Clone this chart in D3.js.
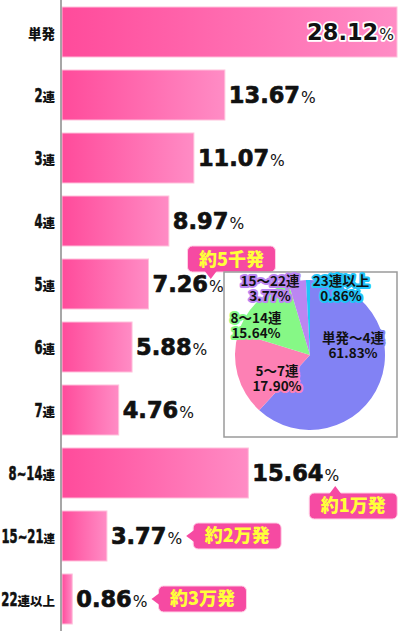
<!DOCTYPE html>
<html>
<head>
<meta charset="utf-8">
<script src="https://cdn.jsdelivr.net/npm/d3@7"></script>
<style>
  html, body { margin: 0; padding: 0; background: #fff; }
  svg { display: block; }
</style>
</head>
<body>
<svg id="chart"></svg>
<script>
// bar data
const categories = ['単発', '2連', '3連', '4連', '5連', '6連', '7連', '8~14連', '15~21連', '22連以上'];
const values = [28.12, 13.67, 11.07, 8.97, 7.26, 5.88, 4.76, 15.64, 3.77, 0.86];

// callouts
const calloutCats = ['5連', '8~14連', '15~21連', '22連以上'];
const calloutTexts = ['約5千発', '約1万発', '約2万発', '約3万発'];
const calloutSides = ['top', 'bottom', 'right', 'right'];

// pie data
const pieLabels = ['単発〜4連', '5〜7連', '8〜14連', '15〜22連', '23連以上'];
const pieValues = [61.83, 17.90, 15.64, 3.77, 0.86];
const pieColors = ['#8282f4', '#fd80b4', '#86f886', '#bb86f2', '#22c4f8'];

const width = 400, height = 631;
const svg = d3.select('#chart').attr('width', width).attr('height', height);

const defs = svg.append('defs');
const grad = defs.append('linearGradient').attr('id', 'barGrad')
  .attr('x1', '0%').attr('x2', '100%').attr('y1', '0%').attr('y2', '0%');
grad.append('stop').attr('offset', '0%').attr('stop-color', '#ff4b9b');
grad.append('stop').attr('offset', '100%').attr('stop-color', '#ff8cc5');

const x = d3.scaleLinear().domain([0, 28.12]).range([62, 397]);
const y = d3.scaleBand().domain(categories).range([0, height])
  .paddingInner(0.206).paddingOuter(0.111);

// bars
const bars = svg.append('g').attr('class', 'bars');
bars.selectAll('rect')
  .data(categories)
  .enter().append('rect')
  .attr('x', x(0))
  .attr('y', d => y(d))
  .attr('width', (d, i) => x(values[i]) - x(0))
  .attr('height', y.bandwidth())
  .attr('fill', 'url(#barGrad)')
  .attr('stroke', '#ffc2dc')
  .attr('stroke-width', 1);

// axis line
svg.append('line')
  .attr('x1', 61).attr('x2', 61).attr('y1', 0).attr('y2', height)
  .attr('stroke', '#8a8a8a').attr('stroke-width', 1.5);

// category labels: condensed digits + small kanji, right aligned
const catLabels = svg.append('g').attr('class', 'cat-labels');
categories.forEach(cat => {
  const base = y(cat) + y.bandwidth() / 2 + 7;
  let right = 55;
  const parts = cat.split(/([0-9~]+)/).filter(s => s.length).reverse();
  parts.forEach(part => {
    const isNum = /^[0-9~]+$/.test(part);
    const g = catLabels.append('g');
    const t = g.append('text')
      .attr('text-anchor', 'end')
      .attr('fill', '#111')
      .text(part);
    if (isNum) {
      t.attr('font-family', '"DejaVu Sans", sans-serif')
        .attr('font-weight', 700).attr('font-size', 20)
        .attr('stroke', '#111').attr('stroke-width', 0.6);
      const sx = 0.58;
      g.attr('transform', `translate(${right},${base}) scale(${sx},1)`);
      right -= t.node().getComputedTextLength() * sx;
    } else {
      const fs = cat === '単発' ? 13.5 : (cat.length > 5 ? 11.5 : 12.5);
      t.attr('font-family', '"Noto Sans CJK JP", sans-serif')
        .attr('font-weight', 900).attr('font-size', fs);
      g.attr('transform', `translate(${right},${base})`);
      right -= t.node().getComputedTextLength();
    }
  });
});

// value labels
const valueEnds = {};
const valLabels = svg.append('g').attr('class', 'value-labels');
valLabels.selectAll('text')
  .data(categories)
  .enter().append('text')
  .attr('x', (d, i) => i === 0 ? x(values[i]) - 3 : x(values[i]) + 4)
  .attr('y', d => y(d) + y.bandwidth() / 2 + 8)
  .attr('text-anchor', (d, i) => i === 0 ? 'end' : 'start')
  .attr('font-family', '"DejaVu Sans", sans-serif')
  .attr('fill', '#111')
  .attr('stroke', (d, i) => i === 0 ? '#fff' : '#111')
  .attr('stroke-width', (d, i) => i === 0 ? 3.5 : 0.7)
  .attr('stroke-linejoin', 'round')
  .attr('paint-order', 'stroke')
  .each(function(d, i) {
    const t = d3.select(this);
    t.append('tspan').text(values[i].toFixed(2))
      .attr('font-weight', 700).attr('font-size', 22.5);
    t.append('tspan').text('%')
      .attr('font-weight', 400).attr('font-size', 15.5).attr('dx', 1)
      .attr('stroke', i === 0 ? '#fff' : 'none');
    const bb = this.getBBox();
    valueEnds[d] = { x0: bb.x, x1: bb.x + bb.width };
  });

// callouts
const callouts = svg.append('g').attr('class', 'callouts');
const boxW = 88, boxH = 26;
calloutCats.forEach((cat, i) => {
  const cy = y(cat) + y.bandwidth() / 2;
  const ve = valueEnds[cat];
  const side = calloutSides[i];
  let bx, by, tri;
  if (side === 'top') {
    bx = ve.x0 + 35; by = cy - 38;
    const px = ve.x1 - 13;
    tri = [[px - 6, by + boxH - 1], [px + 6, by + boxH - 1], [px, by + boxH + 7]];
  } else if (side === 'bottom') {
    bx = ve.x1 - 30; by = cy + 20;
    const px = ve.x1 - 4;
    tri = [[px - 6, by + 1], [px + 6, by + 1], [px, by - 7]];
  } else {
    bx = ve.x1 + 11; by = cy - boxH / 2;
    tri = [[bx + 1, cy - 6], [bx + 1, cy + 6], [bx - 7, cy]];
  }
  const g = callouts.append('g');
  g.append('rect')
    .attr('x', bx).attr('y', by).attr('width', boxW).attr('height', boxH)
    .attr('rx', 5).attr('fill', '#f64aa2')
    .attr('stroke', '#ffd0e6').attr('stroke-width', 1);
  g.append('path')
    .attr('d', d3.line()(tri) + 'Z')
    .attr('fill', '#f64aa2');
  g.append('text')
    .attr('x', bx + boxW / 2).attr('y', by + boxH / 2 + 6.5)
    .attr('text-anchor', 'middle')
    .attr('font-family', '"Noto Sans CJK JP", sans-serif')
    .attr('font-weight', 900).attr('font-size', 18)
    .attr('fill', '#ffff3a')
    .text(calloutTexts[i]);
});

// pie inset
const pieBox = svg.append('g').attr('class', 'pie-box');
pieBox.append('rect')
  .attr('x', 224).attr('y', 272).attr('width', 173).attr('height', 165)
  .attr('fill', '#fff').attr('stroke', '#9a9a9a').attr('stroke-width', 1.5);

const pcx = 310, pcy = 355, pr = 75;
const pie = d3.pie().sort(null).value(d => d);
const arc = d3.arc().innerRadius(0).outerRadius(pr);
const pg = pieBox.append('g').attr('transform', `translate(${pcx},${pcy})`);
pg.selectAll('path')
  .data(pie(pieValues))
  .enter().append('path')
  .attr('d', arc)
  .attr('fill', (d, i) => pieColors[i]);

const pieLabelPos = [[43, -12], [-33, 21], [-54, -32], [-40, -69], [31, -69]];
pg.selectAll('text')
  .data(pieLabels)
  .enter().append('text')
  .attr('transform', (d, i) => `translate(${pieLabelPos[i][0]},${pieLabelPos[i][1]})`)
  .attr('text-anchor', 'middle')
  .attr('font-family', '"Noto Sans CJK JP", sans-serif')
  .attr('font-weight', 700).attr('font-size', 13.5)
  .attr('fill', '#111')
  .attr('stroke', (d, i) => pieColors[i])
  .attr('stroke-width', 4).attr('stroke-linejoin', 'round')
  .attr('paint-order', 'stroke')
  .each(function(d, i) {
    const t = d3.select(this);
    t.append('tspan').attr('x', 0).attr('dy', 0).text(d);
    t.append('tspan').attr('x', 0).attr('dy', 15).text(pieValues[i].toFixed(2) + '%');
  });
</script>
</body>
</html>
